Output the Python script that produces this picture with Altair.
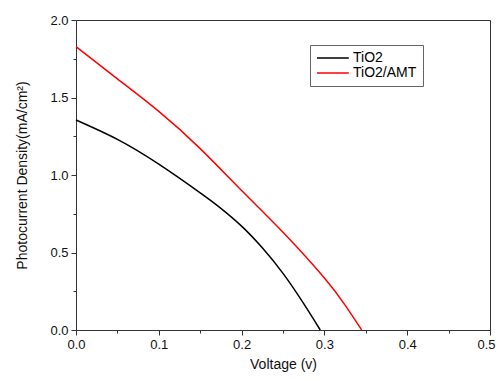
import altair as alt
import pandas as pd

tio2_v = [0.0, 0.05, 0.10, 0.15, 0.175, 0.20, 0.225, 0.25, 0.275, 0.295]
tio2_j = [1.355, 1.23, 1.07, 0.885, 0.785, 0.67, 0.53, 0.365, 0.17, 0.0]
amt_v = [0.0, 0.05, 0.10, 0.15, 0.20, 0.25, 0.30, 0.325, 0.345]
amt_j = [1.828, 1.62, 1.41, 1.17, 0.90, 0.63, 0.335, 0.16, 0.0]
series = ["TiO2", "TiO2/AMT"]
colors = ["#000000", "#ff0000"]

rows = []
for v, j in zip(tio2_v, tio2_j):
    rows.append({"v": v, "j": j, "s": series[0]})
for v, j in zip(amt_v, amt_j):
    rows.append({"v": v, "j": j, "s": series[1]})
df = pd.DataFrame(rows)

font = "Liberation Sans"
x_ticks = [round(i * 0.05, 2) for i in range(11)]
y_ticks = [round(i * 0.25, 2) for i in range(9)]

chart = alt.Chart(df).mark_line(strokeWidth=1.5, interpolate="natural").encode(
    x=alt.X("v:Q", scale=alt.Scale(domain=[0, 0.5], nice=False, zero=False),
            axis=alt.Axis(title="Voltage (v)", values=x_ticks, grid=False, labelFlush=False,
                          labelExpr="round(datum.value*100) % 10 == 0 ? format(datum.value, '.1f') : ''",
                          labelOffset={"condition": {"test": "datum.value > 0.49", "value": -4}, "value": 0},
                          tickSize={"condition": {"test": "round(datum.value*100) % 10 == 0", "value": 5}, "value": 3},
                          labelPadding=3, titlePadding=6, titleFontSize=14)),
    y=alt.Y("j:Q", scale=alt.Scale(domain=[0, 2.0], nice=False),
            axis=alt.Axis(title="Photocurrent Density(mA/cm²)", values=y_ticks, grid=False, labelFlush=False,
                          labelExpr="round(datum.value*100) % 50 == 0 ? format(datum.value, '.1f') : ''",
                          tickSize={"condition": {"test": "round(datum.value*100) % 50 == 0", "value": 5}, "value": 3},
                          labelPadding=3, titlePadding=20, titleFontSize=14)),
    color=alt.Color("s:N", scale=alt.Scale(domain=series, range=colors),
                    legend=alt.Legend(title=None, orient="none", legendX=234, legendY=25,
                                      symbolType="M-1,0H4.3", symbolSize=144, symbolStrokeWidth=1.5,
                                      labelFontSize=14, labelFont=font, labelOffset=23,
                                      strokeColor="#666666", padding=6, rowPadding=1,
                                      fillColor="white", labelLimit=200)),
).properties(
    width=414, height=310, autosize="none",
    padding={"left": 68, "top": 12, "right": 6, "bottom": 43},
).configure_view(
    stroke="#333333", strokeWidth=1
).configure_axis(
    domainColor="#333333", tickColor="#333333", labelFont=font, titleFont=font,
    labelFontSize=13, titleFontWeight="normal", labelColor="#111111",
    titleColor="#111111"
)

chart.save("out.html", embed_options={"renderer": "svg", "actions": False})
